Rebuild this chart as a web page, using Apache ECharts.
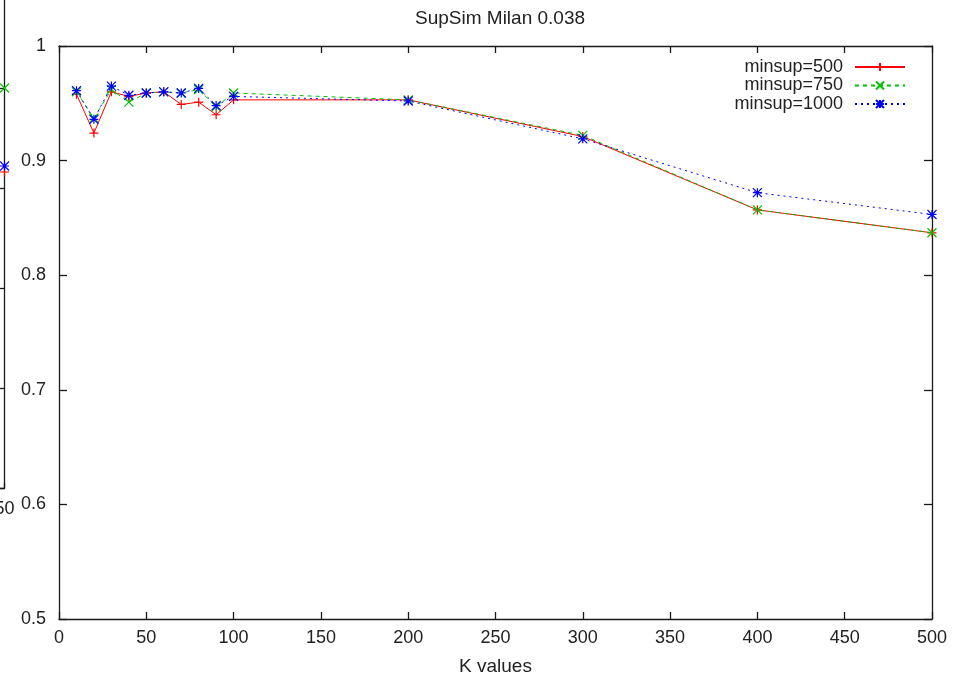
<!DOCTYPE html>
<html>
<head>
<meta charset="utf-8">
<script src="https://cdn.jsdelivr.net/npm/echarts@6/dist/echarts.min.js"></script>
<style>html,body{margin:0;padding:0;background:#fff}#c{width:966px;height:678px}</style>
</head>
<body>
<div id="c"></div>
<script>
// ---- data ----
const kValues = [10, 20, 30, 40, 50, 60, 70, 80, 90, 100, 200, 300, 400, 500];
const minsup500 = [0.958, 0.924, 0.960, 0.956, 0.959, 0.960, 0.949, 0.951, 0.940, 0.953, 0.953, 0.921, 0.857, 0.837];
const minsup750 = [0.960, 0.937, 0.962, 0.951, 0.959, 0.960, 0.959, 0.962, 0.947, 0.959, 0.953, 0.922, 0.857, 0.837];
const minsup1000 = [0.961, 0.936, 0.965, 0.957, 0.959, 0.960, 0.959, 0.963, 0.948, 0.956, 0.952, 0.919, 0.872, 0.853];
const seriesNames = ['minsup=500', 'minsup=750', 'minsup=1000'];
const titleText = 'SupSim Milan 0.038';
const xAxisName = 'K values';
// fragment of a neighbouring chart cropped at the left edge (last points only)
const leftK = [50];
const leftMinsup500 = [0.816];
const leftMinsup750 = [0.900];
const leftMinsup1000 = [0.822];

const FONT = "'Liberation Sans', Arial, sans-serif";
const TXT = '#222';
const AX = '#1a1a1a';
const colors = ['#ff0000', '#00c000', '#0000ff'];
const symPlus = 'path://M5,0L5,10M0,5L10,5';
const symCross = 'path://M0,0L10,10M0,10L10,0';
const symStar = 'path://M5,0L5,10M0,5L10,5M0,0L10,10M0,10L10,0';
const symbols = [symPlus, symCross, symStar];
const dashes = ['solid', [4, 4], [2, 4]];

function pairs(xs, ys) { return xs.map((x, i) => [x, ys[i]]); }

const mainData = [minsup500, minsup750, minsup1000];
const leftData = [leftMinsup500, leftMinsup750, leftMinsup1000];

const series = [];
mainData.forEach((ys, i) => {
  series.push({
    name: seriesNames[i], type: 'line', xAxisIndex: 0, yAxisIndex: 0,
    data: pairs(kValues, ys),
    symbol: symbols[i], symbolSize: 9, showSymbol: true,
    color: colors[i],
    lineStyle: { color: colors[i], width: 1, type: dashes[i] },
    itemStyle: { color: colors[i], borderColor: colors[i], borderWidth: 1.2 },
    emphasis: { disabled: true }, z: 3 + i
  });
});
leftData.forEach((ys, i) => {
  series.push({
    name: 'left ' + seriesNames[i], type: 'line', xAxisIndex: 2, yAxisIndex: 2,
    data: pairs(leftK, ys),
    symbol: symbols[i], symbolSize: 9,
    lineStyle: { color: colors[i], width: 1, type: dashes[i] },
    itemStyle: { color: colors[i], borderColor: colors[i], borderWidth: 1.2 },
    emphasis: { disabled: true }, z: 3 + i
  });
});

const axisLineStyle = { show: true, onZero: false, lineStyle: { color: AX, width: 1.3 } };
const tickStyle = (len) => ({ show: true, inside: true, length: len, lineStyle: { color: AX, width: 1.3 } });
const labelStyle = { color: TXT, fontSize: 18, fontFamily: FONT };

const option = {
  animation: false,
  backgroundColor: '#fff',
  title: {
    text: titleText, left: 410, top: 4,
    textStyle: { color: TXT, fontSize: 19, fontWeight: 'normal', fontFamily: FONT }
  },
  legend: {
    data: seriesNames, orient: 'vertical', align: 'right',
    right: 55, top: 53, itemWidth: 50, itemHeight: 10, itemGap: 0.5,
    textStyle: { color: TXT, fontSize: 18, fontFamily: FONT, lineHeight: 18, padding: [0, 7, 0, 0] },
    selectedMode: false
  },
  grid: [
    { left: 59, right: 34, top: 46, bottom: 59, containLabel: false, outerBoundsMode: 'none' },
    { left: -500, right: 961.5, top: -12, bottom: 190, containLabel: false, outerBoundsMode: 'none' }
  ],
  xAxis: [
    {
      gridIndex: 0, type: 'value', min: 0, max: 500, interval: 50, position: 'bottom',
      name: xAxisName, nameLocation: 'middle', nameGap: 38,
      nameTextStyle: { color: TXT, fontSize: 19, fontFamily: FONT },
      axisLine: axisLineStyle, axisTick: tickStyle(7),
      axisLabel: Object.assign({ margin: 10 }, labelStyle), splitLine: { show: false }
    },
    {
      gridIndex: 0, type: 'value', min: 0, max: 500, interval: 50, position: 'top',
      axisLine: axisLineStyle, axisTick: tickStyle(7),
      axisLabel: { show: false }, splitLine: { show: false }
    },
    {
      gridIndex: 1, type: 'value', min: 0, max: 50, interval: 10, position: 'bottom',
      axisLine: axisLineStyle, axisTick: tickStyle(5),
      axisLabel: Object.assign({ margin: 12 }, labelStyle), splitLine: { show: false }
    }
  ],
  yAxis: [
    {
      gridIndex: 0, type: 'value', min: 0.5, max: 1, interval: 0.1, position: 'left',
      axisLine: axisLineStyle, axisTick: tickStyle(8),
      axisLabel: Object.assign({ margin: 13 }, labelStyle), splitLine: { show: false }
    },
    {
      gridIndex: 0, type: 'value', min: 0.5, max: 1, interval: 0.1, position: 'right',
      axisLine: axisLineStyle, axisTick: tickStyle(8),
      axisLabel: { show: false }, splitLine: { show: false }
    },
    {
      gridIndex: 1, type: 'value', min: 0.5, max: 1, interval: 0.1, position: 'right',
      axisLine: axisLineStyle, axisTick: tickStyle(5),
      axisLabel: { show: false }, splitLine: { show: false }
    }
  ],
  series: series
};

const chart = echarts.init(document.getElementById('c'), null, { renderer: 'canvas' });
chart.setOption(option);
</script>
</body>
</html>
